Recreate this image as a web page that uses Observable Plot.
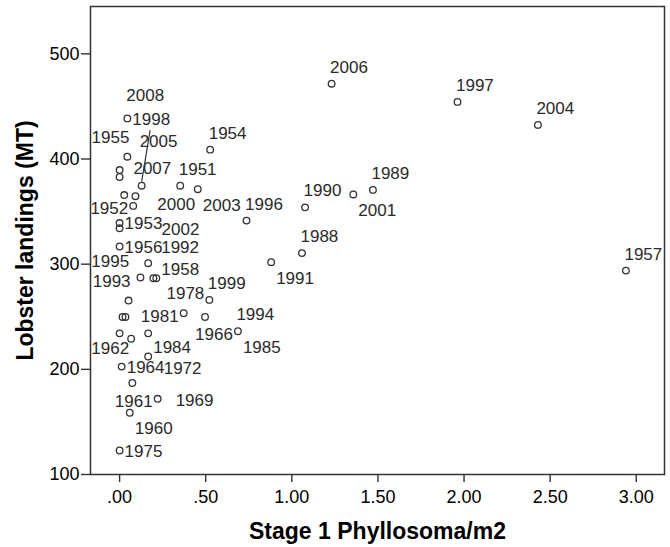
<!DOCTYPE html>
<html><head><meta charset="utf-8">
<script src="https://cdn.jsdelivr.net/npm/d3@7"></script>
<script src="https://cdn.jsdelivr.net/npm/@observablehq/plot@0.6"></script>
<style>body{margin:0;background:#fff}</style>
</head><body><div id="chart"></div>
<script>
// Year labels (null = point drawn without a label)
const years = [2006,1997,2004,1957,1954,1989,1988,1951,2000,2008,
  1998,1955,2005,2007,2003,1996,1990,2001,1991,1952,
  1953,2002,1956,1995,1992,1958,1993,1978,1999,1981,
  1966,1994,1985,1962,1984,1964,1972,1961,1969,1960,
  1975,null,null,null,null,null,null,null,null,null,null,null];
// Stage 1 Phyllosoma/m2
const phyllosoma = [1.231,1.962,2.429,2.940,0.526,1.471,1.059,0.352,0.352,0.045,
  0.045,0.045,0.128,0.092,0.454,0.737,1.077,1.357,0.880,0.079,
  0.000,0.000,0.000,0.000,0.166,0.213,0.052,0.521,0.521,0.372,
  0.687,0.687,0.687,0.000,0.166,0.012,0.012,0.221,0.221,0.059,
  0.000,0.000,0.000,0.027,0.121,0.196,0.017,0.034,0.496,0.067,0.166,0.074];
// Lobster landings (MT)
const landings = [471.6,454.3,432.4,293.9,408.9,370.6,310.5,374.6,374.6,438.6,
  438.6,402.2,374.6,364.6,371.3,341.4,354.0,366.3,301.9,355.4,
  339.1,334.1,316.8,316.8,300.9,286.6,265.4,266.0,266.0,253.4,
  236.2,236.2,236.2,234.2,212.2,202.6,202.6,172.0,172.0,158.7,
  122.8,389.5,382.9,365.7,287.3,286.6,249.8,249.8,249.8,229.1,234.2,187.0];
// label placement code for each point
const labelPlacement = ["T","T","T","T","T","T","T","T","B","TT",
  "R","TL","LEAD","TTT","BR","T","T","BR","BR","L",
  "R","RR","R","BL","TR","RU","TL","LU","T","L",
  "L","T","BR","BL","RU","R","RR","L","R2","BR",
  "R","","","","","","","","","","",""];

const xTicks = [0, 0.5, 1, 1.5, 2, 2.5, 3];
const yTicks = [100, 200, 300, 400, 500];
const xTitle = "Stage 1 Phyllosoma/m2";
const yTitle = "Lobster landings (MT)";

// label layout (pixel offsets relative to the point)
const placements = {
  T:   {anchor: "start",  dx: -1.5, dy: -16.5},
  TT:  {anchor: "start",  dx: -1,   dy: -23},
  TTT: {anchor: "start",  dx: -2,   dy: -28},
  LEAD:{anchor: "start",  dx: -2,   dy: -44},
  R:   {anchor: "start",  dx: 5,    dy: 1},
  RR:  {anchor: "start",  dx: 42,   dy: 1.5},
  RU:  {anchor: "start",  dx: 5,    dy: -8.5},
  R2:  {anchor: "start",  dx: 18,   dy: 2},
  TR:  {anchor: "start",  dx: 13,   dy: -16},
  L:   {anchor: "end",    dx: -5,   dy: 3},
  LU:  {anchor: "end",    dx: -5,   dy: -6},
  TL:  {anchor: "end",    dx: 2,    dy: -19},
  BL:  {anchor: "end",    dx: 9.5,  dy: 15},
  BR:  {anchor: "start",  dx: 5,    dy: 16},
  B:   {anchor: "middle", dx: -4,   dy: 19}
};

const data = years.map((year, i) => ({year, x: phyllosoma[i], y: landings[i], place: labelPlacement[i]}));
// coincident points are drawn once (like a single circle in the source)
const seen = new Set();
const dotData = data.filter(d => { const k = d.x + "|" + d.y; if (seen.has(k)) return false; seen.add(k); return true; });

const ink = "#333";
const fmtX = d => d < 1 ? d.toFixed(2).slice(1) : d.toFixed(2);

const labelMarks = Object.entries(placements).map(([code, p]) =>
  Plot.text(data.filter(d => d.place === code && d.year != null), {
    x: "x", y: "y", text: d => String(d.year),
    textAnchor: p.anchor, dx: p.dx, dy: p.dy,
    fontSize: 17, fill: "#2a2a2a"
  })
);

function leader(index, scales) {
  const g = d3.create("svg:g");
  for (const d of data.filter(d => d.place === "LEAD")) {
    const px = scales.x(d.x), py = scales.y(d.y);
    g.append("line")
      .attr("x1", px + 0.5).attr("y1", py - 3.5)
      .attr("x2", px + 9).attr("y2", py - 55)
      .attr("stroke", ink).attr("stroke-width", 1.2);
  }
  return g.node();
}

const chart = Plot.plot({
  width: 670,
  height: 547,
  marginLeft: 90,
  marginRight: 6,
  marginTop: 6,
  marginBottom: 73,
  style: {fontFamily: "'Liberation Sans', Arial, sans-serif", fontSize: "18px", background: "#fff", color: "#000"},
  x: {domain: [-0.169, 3.164]},
  y: {domain: [100, 545]},
  marks: [
    Plot.axisX({ticks: xTicks, tickFormat: fmtX, tickSize: 8, tickPadding: 8, stroke: ink, strokeWidth: 1.4, fontSize: 18, fill: "#000", label: null}),
    Plot.axisY({ticks: yTicks, tickFormat: d => String(d), tickSize: 9, tickPadding: 2, stroke: ink, strokeWidth: 1.4, fontSize: 18, fill: "#000", label: null}),
    Plot.frame({stroke: ink, strokeWidth: 1.5}),
    Plot.dot(dotData, {x: "x", y: "y", r: 3.3, stroke: ink, strokeWidth: 1.3, fill: "none"}),
    ...labelMarks,
    leader,
    Plot.text([xTitle], {frameAnchor: "bottom", textAnchor: "middle", lineAnchor: "middle", dy: 57, fontSize: 23, fontWeight: "bold", fill: "#000"}),
    Plot.text([yTitle], {frameAnchor: "left", textAnchor: "middle", lineAnchor: "middle", dx: -65, rotate: -90, fontSize: 23, fontWeight: "bold", fill: "#000"})
  ]
});
document.getElementById("chart").appendChild(chart);
</script>
</body></html>
